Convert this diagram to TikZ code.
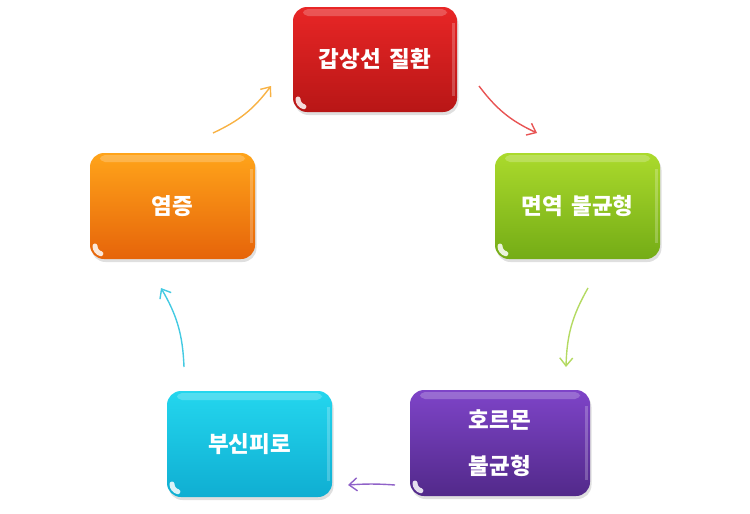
\documentclass[tikz,border=0pt]{standalone}
\usepackage{fontspec}
\setmainfont{Noto Sans CJK KR}
\usetikzlibrary{arrows.meta,shadows}
\definecolor{redT}{HTML}{E82626}
\definecolor{redB}{HTML}{B81616}
\definecolor{grnT}{HTML}{ABDA2C}
\definecolor{grnB}{HTML}{74AC16}
\definecolor{purT}{HTML}{7E44C8}
\definecolor{purB}{HTML}{52298A}
\definecolor{cyaT}{HTML}{24D6EE}
\definecolor{cyaB}{HTML}{0FAED2}
\definecolor{oraT}{HTML}{FFA41A}
\definecolor{oraB}{HTML}{E6640A}
\definecolor{redA}{HTML}{E85454}
\definecolor{grnA}{HTML}{B4DA62}
\definecolor{purA}{HTML}{9062C8}
\definecolor{cyaA}{HTML}{44CAE2}
\definecolor{oraA}{HTML}{F8B244}
\newcommand{\wsp}{\hspace{0.38em}}
\tikzset{
  gbox/.style={rounded corners=14pt, inner sep=0pt, text=white,
    font=\fontsize{22.5}{46}\selectfont\bfseries, align=center,
    drop shadow={opacity=0.25, shadow xshift=1.5pt, shadow yshift=-3pt},
    path picture={
      \fill[white, opacity=0.22, rounded corners=5pt]
        ([xshift=10pt,yshift=-2pt]path picture bounding box.north west)
        rectangle ([xshift=-10pt,yshift=-9pt]path picture bounding box.north east);
      \fill[white, opacity=0.22, sharp corners]
        ([xshift=-5pt,yshift=-16pt]path picture bounding box.north east)
        rectangle ([xshift=-2.5pt,yshift=16pt]path picture bounding box.south east);
      \draw[white, opacity=0.85, line width=5pt, line cap=round, sharp corners]
        ([xshift=5pt,yshift=13pt]path picture bounding box.south west)
        arc[start angle=180, end angle=255, radius=8pt];
    }},
  cyc/.style={line width=1.4pt, -{Straight Barb[length=8pt,width=13pt,line width=1.4pt]}, bend right=14}
}
\begin{document}
\begin{tikzpicture}[x=1pt,y=-1pt]
\useasboundingbox (0,0) rectangle (750,514);
\node[gbox, top color=redT, bottom color=redB, minimum width=164pt, minimum height=105pt] (red) at (375,59.5) {갑상선\wsp 질환};
\node[gbox, top color=grnT, bottom color=grnB, minimum width=165pt, minimum height=106pt] (grn) at (577.5,206) {면역\wsp 불균형};
\node[gbox, top color=purT, bottom color=purB, minimum width=180pt, minimum height=106pt] (pur) at (500,443) {호르몬\\불균형};
\node[gbox, top color=cyaT, bottom color=cyaB, minimum width=165pt, minimum height=106pt] (cya) at (249.5,444) {부신피로};
\node[gbox, top color=oraT, bottom color=oraB, minimum width=165pt, minimum height=106pt] (ora) at (172.5,206) {염증};
\coordinate (a1) at (213,133); \coordinate (b1) at (271,86);
\coordinate (a2) at (479,86); \coordinate (b2) at (537,133);
\coordinate (a3) at (588,288); \coordinate (b3) at (566,367);
\coordinate (a4) at (395,485); \coordinate (b4) at (348,485);
\coordinate (a5) at (184,367); \coordinate (b5) at (161,288);
\draw[cyc, draw=oraA] (a1) to (b1);
\draw[cyc, draw=redA] (a2) to (b2);
\draw[cyc, draw=grnA] (a3) to (b3);
\draw[cyc, draw=purA, bend right=4] (a4) to (b4);
\draw[cyc, draw=cyaA] (a5) to (b5);
\end{tikzpicture}
\end{document}
